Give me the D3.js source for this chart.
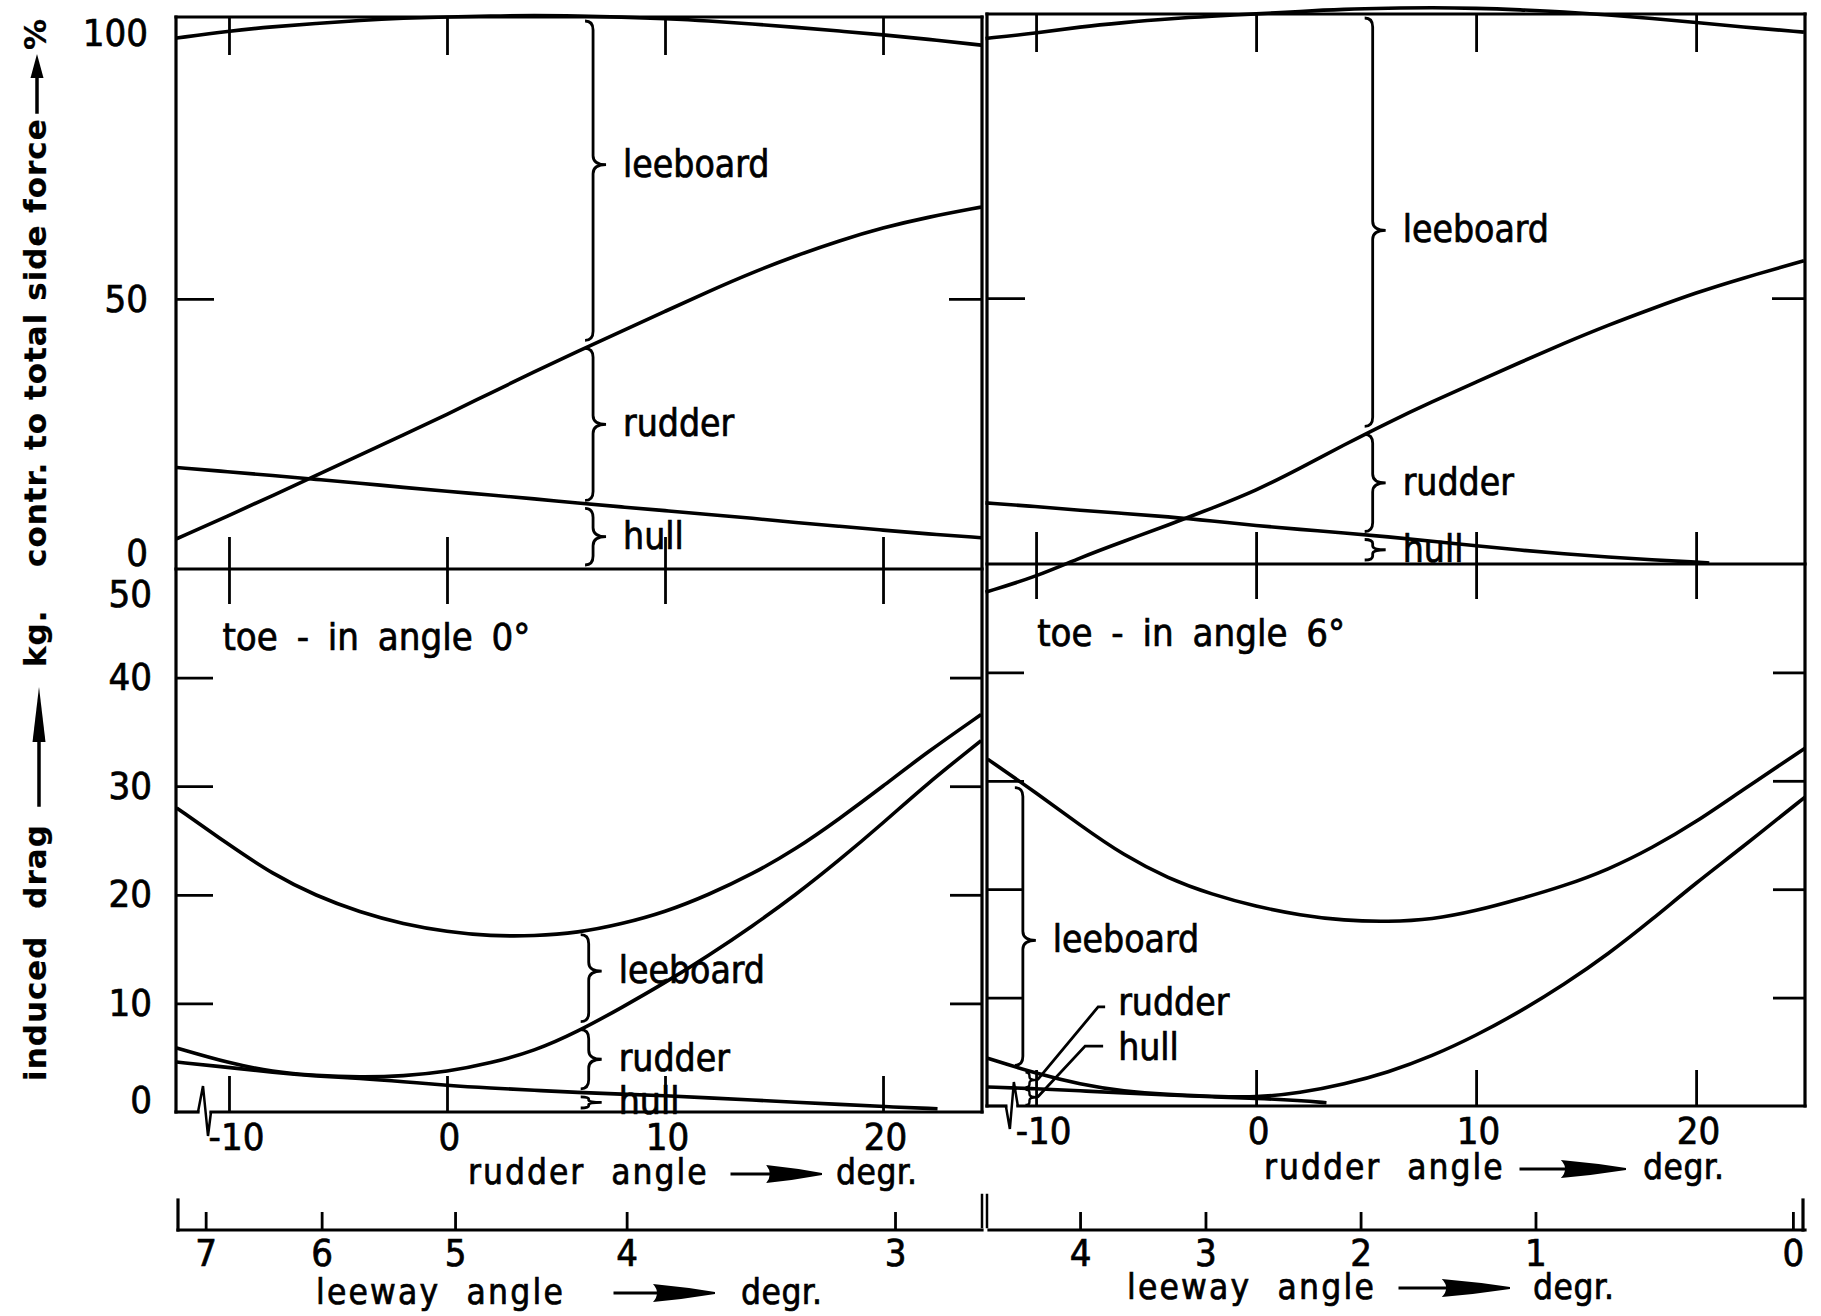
<!DOCTYPE html>
<html>
<head>
<meta charset="utf-8">
<title>contribution to side force and induced drag</title>
<script src="https://d3js.org/d3.v7.min.js"></script>
<style>
  body { margin: 0; background: #fff; }
  svg text { fill: #000; stroke: #000; stroke-width: 0.7px; font-family: "DejaVu Sans Condensed", "DejaVu Sans", sans-serif; }
  svg .ytitle { font-family: "DejaVu Sans", sans-serif; font-weight: bold; stroke-width: 0.2px; }
</style>
</head>
<body>
<svg id="chart" width="1821" height="1316"></svg>
<script>
!(function (d3) {

// ---- values (rudder angle in degr.) ----
// upper left: toe-in 0, contribution to total side force in %
var rudderUL = [-12.4, -10, -8, -6, -4, -2, 0, 2, 4, 6, 8, 10, 12, 14, 16, 18, 20, 22, 24.5];
var totalUL = [98.3, 99.6, 100.4, 101.0, 101.6, 102.0, 102.2, 102.4, 102.5, 102.4, 102.2, 101.9, 101.5, 100.9, 100.3, 99.6, 98.9, 98.1, 97.0];
var rudderHullUL = [5.6, 9.9, 13.6, 17.3, 21.1, 24.8, 28.6, 32.6, 36.5, 40.3, 44.0, 47.7, 51.4, 54.9, 58.0, 60.8, 63.2, 65.1, 67.0];
var hullUL = [18.8, 18.0, 17.3, 16.6, 15.9, 15.1, 14.4, 13.7, 13.0, 12.2, 11.5, 10.8, 10.1, 9.4, 8.6, 7.9, 7.2, 6.5, 5.8];

// upper right: toe-in 6
var rudderUR = [-12.3, -10, -8, -6, -4, -2, 0, 2, 4, 6, 8, 10, 12, 14, 16, 18, 20, 22, 24.9];
var totalUR = [98.8, 99.8, 101.0, 101.8, 102.5, 103.0, 103.4, 103.9, 104.3, 104.5, 104.6, 104.5, 104.2, 103.8, 103.2, 102.6, 101.8, 101.0, 100.0];
var rudderHullUR = [-5.3, -2.4, 1.2, 4.3, 7.3, 10.5, 13.8, 18.0, 22.4, 26.6, 30.5, 34.2, 37.9, 41.5, 44.9, 48.0, 51.0, 53.6, 57.0];
var hullRudderUR = [-12.3, -10, -8, -6, -4, -2, 0, 2, 4, 6, 8, 10, 12, 14, 16, 18, 20, 20.6];
var hullUR = [11.5, 10.8, 10.1, 9.5, 8.9, 8.1, 7.2, 6.5, 5.85, 5.1, 4.3, 3.4, 2.6, 1.9, 1.3, 0.8, 0.35, 0.2];

// lower left: toe-in 0, induced drag in kg.
var rudderLL = [-12.4, -10, -8, -6, -4, -2, 0, 2, 4, 6, 8, 10, 12, 14, 16, 18, 20, 22, 24.5];
var totalLL = [28.0, 24.6, 21.9, 19.9, 18.4, 17.3, 16.6, 16.2, 16.2, 16.5, 17.3, 18.4, 20.0, 21.9, 24.2, 27.0, 30.0, 33.1, 36.6];
var rudderHullLL = [5.9, 4.5, 3.7, 3.35, 3.2, 3.3, 3.7, 4.5, 5.6, 7.4, 9.6, 11.9, 14.4, 17.1, 20.0, 23.2, 26.6, 30.2, 34.2];
var hullRudderLL = [-12.4, -10, -8, -6, -4, -2, 0, 2, 4, 6, 8, 10, 12, 14, 16, 18, 20, 22.5];
var hullLL = [4.6, 4.1, 3.65, 3.3, 3.1, 2.8, 2.45, 2.2, 2.0, 1.8, 1.65, 1.5, 1.3, 1.1, 0.9, 0.7, 0.5, 0.3];

// lower right: toe-in 6
var rudderLR = [-12.2, -10, -8, -6, -4, -2, 0, 2, 4, 6, 8, 10, 12, 14, 16, 18, 20, 22, 24.95];
var totalLR = [32.0, 28.9, 25.9, 23.1, 21.0, 19.5, 18.4, 17.6, 17.1, 17.0, 17.2, 18.0, 19.1, 20.3, 21.8, 23.8, 26.2, 29.0, 33.0];
var rudderHullLR = [4.4, 3.0, 2.0, 1.35, 1.05, 0.9, 0.78, 1.2, 2.0, 3.1, 4.6, 6.5, 8.7, 11.2, 14.0, 17.2, 20.6, 23.7, 28.5];
var hullRudderLR = [-12.2, -10, -8, -6, -4, -2, 0, 2, 3.2];
var hullLR = [1.75, 1.6, 1.4, 1.2, 1.0, 0.85, 0.72, 0.5, 0.3];

// ticks
var rudderTicks = [-10, 0, 10, 20];
var pctTicks = [0, 50, 100];
var dragTicks = [0, 10, 20, 30, 40, 50];
var breakAt = -11.1;

// second scale: leeway angle against rudder angle
var leewayLeft = [7, 6, 5, 4, 3];
var leewayRudderLeft = [-11.07, -5.75, 0.37, 8.24, 20.55];
var leewayRight = [4, 3, 2, 1, 0];
var leewayRudderRight = [-8.0, -2.3, 4.75, 12.7, 24.4];

var toeIn = ["toe - in angle 0°", "toe - in angle 6°"];


var svg = d3.select("#chart");
var ink = "#000";
var font = '"DejaVu Sans Condensed", "DejaVu Sans", sans-serif';

// page layout of the two columns
var cols = [
  { x0: 176, x1: 982, r0: -12.43, r1: 24.54, yTop: 17, yMid: 569, yBot: 1112, pctTop: 102.2,
    zig: [[-7, 0], [-2, -26], [3, 24], [6, 0]], toeAt: [-10.3, 42.5] },
  { x0: 987, x1: 1805, r0: -12.23, r1: 24.95, yTop: 14, yMid: 564, yBot: 1106, pctTop: 103.4,
    zig: [[-6, 0], [-2, 23], [2, -24], [6, 0]], toeAt: [-9.95, 42.4] }
];
var leeY = 1230;

var sets = [
  { up: { r: rudderUL, total: totalUL, rh: rudderHullUL, hr: rudderUL, hull: hullUL },
    lo: { r: rudderLL, total: totalLL, rh: rudderHullLL, hr: hullRudderLL, hull: hullLL },
    lee: leewayLeft, leeR: leewayRudderLeft,
    braceUp: { at: 6.7, items: [["leeboard", "rh", "frame", 0.45], ["rudder", "hull", "rh", 0.5], ["hull", "base", "hull", 0.5]] },
    braceLo: { at: 6.5, items: [["leeboard", "rh", "total", 0.42], ["rudder", "hull", "rh", 0.5], ["hull", "base", "hull", 0.5]] } },
  { up: { r: rudderUR, total: totalUR, rh: rudderHullUR, hr: hullRudderUR, hull: hullUR },
    lo: { r: rudderLR, total: totalLR, rh: rudderHullLR, hr: hullRudderLR, hull: hullLR },
    lee: leewayRight, leeR: leewayRudderRight,
    braceUp: { at: 5.3, items: [["leeboard", "rh", "frame", 0.52], ["rudder", "hull", "rh", 0.5], ["hull", "base", "hull", 0.5]] },
    braceLo: { at: -10.6, items: [["leeboard", "rh", "total", 0.55]] },
    notes: { at: -10.3, items: [["rudder", "hull", "rh", [-6.27, 8.4]], ["hull", "base", "hull", [-6.27, 4.24]]] } }
];

var titles = [
  { rud: [468, 1184, 732, 822, 1174, 836], lee: [316, 1304, 615, 715, 1293, 741] },
  { rud: [1264, 1179, 1521, 1626, 1169, 1643], lee: [1127, 1299, 1400, 1510, 1288, 1533] }
];

function seg(g, x1, y1, x2, y2, w) {
  return g.append("line").attr("x1", x1).attr("y1", y1).attr("x2", x2).attr("y2", y2)
    .attr("stroke", ink).attr("stroke-width", w || 3.2).attr("stroke-linecap", "square");
}

function ticks(g, axis, tx, ty, len, pad) {
  var a = g.append("g").attr("transform", "translate(" + tx + "," + ty + ")")
    .call(axis.tickSize(-len).tickPadding(pad || 0)
      .tickFormat(pad ? function (d) { return String(d); } : ""));
  a.select(".domain").remove();
  a.selectAll(".tick line").attr("stroke", ink).attr("stroke-width", 2.8);
  a.selectAll(".tick text").attr("fill", ink).attr("font-size", 38).attr("font-family", font);
  return a;
}

function at(rs, vs, r) {
  return d3.scaleLinear().domain(rs).range(vs).clamp(true)(r);
}

function bracePath(x, ya, yb, frac, w, tip) {
  var ym = ya + (yb - ya) * frac, r = Math.min(9, (yb - ya) / 5);
  return "M" + (x - w) + "," + ya + "Q" + x + "," + ya + " " + x + "," + (ya + r) +
    "L" + x + "," + (ym - r) + "Q" + x + "," + ym + " " + (x + tip) + "," + ym +
    "Q" + x + "," + ym + " " + x + "," + (ym + r) +
    "L" + x + "," + (yb - r) + "Q" + x + "," + yb + " " + (x - w) + "," + yb;
}

// thin shaft and a dart-shaped head, as drawn in the figure
function arrowRight(x0, x1, y) {
  var L = x1 - x0, xb = x0 + L * 0.38;
  seg(svg, x0, y, x0 + L * 0.45, y, 3);
  svg.append("path").attr("fill", ink)
    .attr("d", "M" + xb + "," + (y - 9) + "Q" + (x0 + L * 0.7) + "," + (y - 6) + " " + x1 + "," + (y - 1) +
      "L" + x1 + "," + (y + 1) + "Q" + (x0 + L * 0.7) + "," + (y + 6) + " " + xb + "," + (y + 9) +
      "Q" + (x0 + L * 0.46) + "," + y + " " + xb + "," + (y - 9) + "Z");
}

function arrowUp(x, yFrom, yTip, headLen) {
  seg(svg, x, yFrom, x, yTip + headLen - 4, 3.5);
  svg.append("path").attr("fill", ink)
    .attr("d", "M" + x + "," + yTip + "L" + (x + 6.5) + "," + (yTip + headLen) + "L" + (x - 6.5) + "," + (yTip + headLen) + "Z");
}

cols.forEach(function (c, i) {
  var s = sets[i];
  var x = d3.scaleLinear().domain([c.r0, c.r1]).range([c.x0, c.x1]);
  var yUp = d3.scaleLinear().domain([0, c.pctTop]).range([c.yMid, c.yTop]);
  var yLo = d3.scaleLinear().domain([0, 50]).range([c.yBot, c.yMid]);
  var g = svg.append("g").attr("class", "col" + i);

  // frame
  seg(g, c.x0, c.yTop, c.x1, c.yTop);
  seg(g, c.x0, c.yMid, c.x1, c.yMid);
  seg(g, c.x0, c.yTop, c.x0, c.yBot);
  seg(g, c.x1, c.yTop, c.x1, c.yBot);
  var bx = x(breakAt);
  seg(g, c.x0, c.yBot, bx + c.zig[0][0], c.yBot);
  seg(g, bx + c.zig[3][0], c.yBot, c.x1, c.yBot);
  g.append("path").attr("fill", "none").attr("stroke", ink).attr("stroke-width", 2.5)
    .attr("d", d3.line()(c.zig.map(function (p) { return [bx + p[0], c.yBot + p[1]]; })));

  // ticks
  ticks(g, d3.axisTop(x).tickValues(rudderTicks), 0, c.yTop, 38);
  ticks(g, d3.axisBottom(x).tickValues(rudderTicks), 0, c.yMid, 32);
  ticks(g, d3.axisTop(x).tickValues(rudderTicks), 0, c.yMid, 35);
  var bot = ticks(g, d3.axisBottom(x).tickValues(rudderTicks), 0, c.yBot, 36, 11);
  bot.selectAll(".tick text").attr("dx", function (d) { return d < 0 ? 7 : 2; });
  ticks(g, d3.axisLeft(yUp).tickValues([50]), c.x0, 0, 38);
  ticks(g, d3.axisRight(yUp).tickValues([50]), c.x1, 0, 33);
  ticks(g, d3.axisLeft(yLo).tickValues([10, 20, 30, 40]), c.x0, 0, 37);
  ticks(g, d3.axisRight(yLo).tickValues([10, 20, 30, 40]), c.x1, 0, 32);

  if (i === 0) {
    var pl = ticks(g, d3.axisLeft(yUp).tickValues(pctTicks), c.x0, 0, 0, 28);
    pl.selectAll(".tick line").remove();
    pl.selectAll(".tick text").attr("dy", function (d) { return d === 0 ? "-0.1em" : d === 100 ? "0.45em" : "0.32em"; });
    var dl = ticks(g, d3.axisLeft(yLo).tickValues(dragTicks), c.x0, 0, 0, 24);
    dl.selectAll(".tick line").remove();
    dl.selectAll(".tick text").attr("dy", function (d) { return d === 50 ? "0.98em" : d === 0 ? "0em" : "0.32em"; });
  }

  // curves
  function draw(part, y) {
    var line = d3.line()
      .x(function (d) { return x(d[0]); })
      .y(function (d) { return y(d[1]); })
      .curve(d3.curveBasis);
    [[part.r, part.total], [part.r, part.rh], [part.hr, part.hull]].forEach(function (pair) {
      g.append("path").datum(d3.zip(pair[0], pair[1]))
        .attr("d", line).attr("fill", "none").attr("stroke", ink)
        .attr("stroke-width", 3.6).attr("stroke-linejoin", "round");
    });
  }
  draw(s.up, yUp);
  draw(s.lo, yLo);

  function valueOf(part, key, r, top) {
    if (key === "base") return 0;
    if (key === "frame") return top;
    return at(key === "hull" ? part.hr : part.r, part[key], r);
  }

  function braces(def, part, y, top) {
    var xb = x(def.at);
    def.items.forEach(function (b) {
      var ya = y(valueOf(part, b[2], def.at, top)) + 4;
      var yb = y(valueOf(part, b[1], def.at, top)) - 4;
      var ym = ya + (yb - ya) * b[3];
      g.append("path").attr("d", bracePath(xb, ya, yb, b[3], 8, 13))
        .attr("fill", "none").attr("stroke", ink).attr("stroke-width", 2.8);
      g.append("text").attr("x", xb + 30).attr("y", ym + 12).attr("font-size", 37).text(b[0]);
    });
  }
  braces(s.braceUp, s.up, yUp, c.pctTop);
  braces(s.braceLo, s.lo, yLo, 50);

  // small braces with leader lines (toe-in 6, low rudder angles)
  if (s.notes) {
    var xn = x(s.notes.at);
    s.notes.items.forEach(function (b, k) {
      var ya = yLo(valueOf(s.lo, b[2], s.notes.at)) + 1;
      var yb = yLo(valueOf(s.lo, b[1], s.notes.at)) - 1;
      var ym = (ya + yb) / 2;
      g.append("path").attr("d", bracePath(xn, ya, yb, 0.5, 4, 7))
        .attr("fill", "none").attr("stroke", ink).attr("stroke-width", 2.4);
      var tx = x(b[3][0]), ty = yLo(b[3][1]);
      var pts = k === 0 ? [[tx - 13, ty - 8], [tx - 20, ty - 8], [xn + 8, ym]]
                        : [[tx - 15, ty - 14], [tx - 33, ty - 14], [xn + 8, ym]];
      g.append("path").attr("d", d3.line()(pts)).attr("fill", "none")
        .attr("stroke", ink).attr("stroke-width", 2.8);
      g.append("text").attr("x", tx).attr("y", ty).attr("font-size", 37).text(b[0]);
    });
  }

  // toe-in caption
  g.append("text").attr("x", x(c.toeAt[0])).attr("y", yLo(c.toeAt[1]))
    .attr("font-size", 38).attr("word-spacing", 8).text(toeIn[i]);

  // leeway angle scale
  var lee = d3.scaleLinear().domain(s.lee).range(s.leeR.map(x));
  ticks(g, d3.axisBottom(lee).tickValues(s.lee), 0, leeY, 18, 9);
  seg(g, c.x0 + 2, leeY, c.x1, leeY);
  if (i === 0) {
    seg(g, c.x0 + 2, leeY - 30, c.x0 + 2, leeY);
    seg(g, c.x1, leeY - 35, c.x1, leeY - 3, 2.5);
  } else {
    seg(g, c.x0, leeY - 35, c.x0, leeY - 3, 2.5);
    seg(g, c.x1 - 2, leeY - 30, c.x1 - 2, leeY);
  }

  // axis names
  var t = titles[i];
  g.append("text").attr("x", t.rud[0]).attr("y", t.rud[1]).attr("font-size", 35)
    .attr("letter-spacing", 2).attr("word-spacing", 14).text("rudder angle");
  arrowRight(t.rud[2], t.rud[3], t.rud[4]);
  g.append("text").attr("x", t.rud[5]).attr("y", t.rud[1]).attr("font-size", 35)
    .attr("letter-spacing", 0.5).text("degr.");
  g.append("text").attr("x", t.lee[0]).attr("y", t.lee[1]).attr("font-size", 35)
    .attr("letter-spacing", 2.2).attr("word-spacing", 14).text("leeway angle");
  arrowRight(t.lee[2], t.lee[3], t.lee[4]);
  g.append("text").attr("x", t.lee[5]).attr("y", t.lee[1]).attr("font-size", 35)
    .attr("letter-spacing", 0.5).text("degr.");
});

// vertical axis names
function vtext(x, y, str, ws) {
  svg.append("text").attr("class", "ytitle")
    .attr("transform", "translate(" + x + "," + y + ") rotate(-90)")
    .attr("font-size", 31).attr("letter-spacing", 1).attr("word-spacing", ws || 0)
    .text(str);
}
vtext(46, 567, "contr. to total side force");
arrowUp(37, 112, 54, 24);
vtext(46, 50, "%");
vtext(46, 1081, "induced drag", 15);
arrowUp(39, 805, 687, 55);
vtext(46, 667, "kg.");

})(d3);
</script>
</body>
</html>
